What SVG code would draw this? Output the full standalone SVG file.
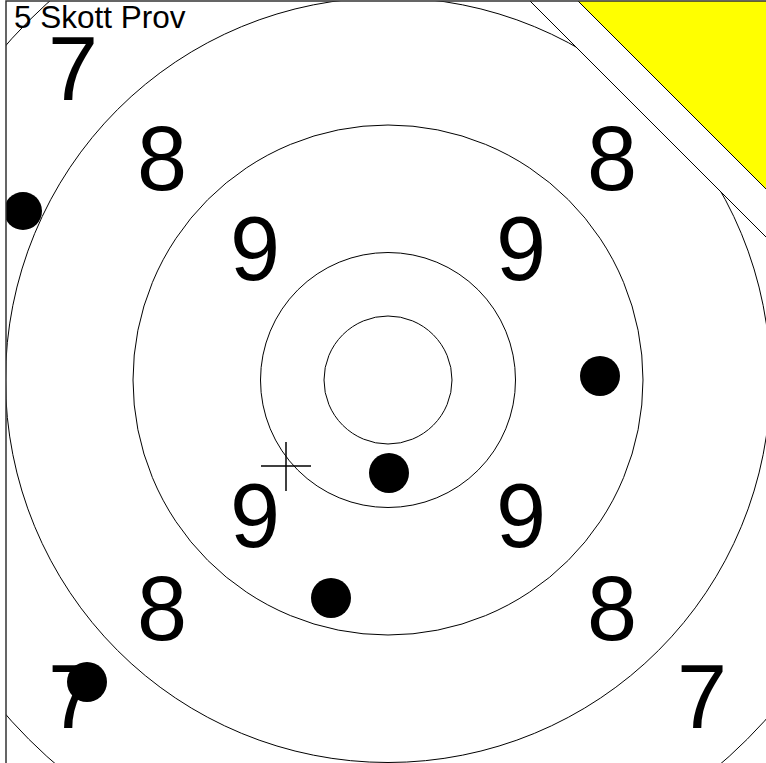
<svg xmlns="http://www.w3.org/2000/svg" width="766" height="763" viewBox="0 0 766 763">
<style>
.ring{fill:none;stroke:#000;stroke-width:1}
.num{font-family:"Liberation Sans",Arial,sans-serif;font-size:90px;fill:#000;text-anchor:middle}
.hit{fill:#000}
</style>
<defs>
<clipPath id="frame"><rect x="6" y="1" width="800" height="800"/></clipPath>
</defs>
<rect x="0" y="0" width="766" height="763" fill="#fff"/>
<g clip-path="url(#frame)">
<g id="target">
<circle class="ring" cx="388" cy="380" r="64"/>
<circle class="ring" cx="388" cy="380" r="127.5"/>
<circle class="ring" cx="388" cy="380" r="255"/>
<circle class="ring" cx="388" cy="380" r="382.5"/>
<circle class="ring" cx="388" cy="380" r="508"/>
</g>
<g id="corner">
<polygon points="519,-10 800,-10 800,271" fill="#fff" stroke="#000" stroke-width="1"/>
<polygon points="567,-10 800,-10 800,223" fill="#ffff00" stroke="#000" stroke-width="1"/>
</g>
<g id="labels">
<text class="num" x="73" y="100">7</text>
<text class="num" x="162" y="190">8</text>
<text class="num" x="612" y="190">8</text>
<text class="num" x="255" y="280">9</text>
<text class="num" x="521" y="280">9</text>
<text class="num" x="255" y="547">9</text>
<text class="num" x="521" y="547">9</text>
<text class="num" x="162" y="640">8</text>
<text class="num" x="612" y="640">8</text>
<text class="num" x="73" y="728">7</text>
<text class="num" x="702" y="728">7</text>
</g>
<text id="title" x="14" y="28" font-family="'Liberation Sans',Arial,sans-serif" font-size="31.5" fill="#000">5 Skott Prov</text>
<g id="cross" stroke="#000" stroke-width="1.5">
<line x1="261" y1="466" x2="311" y2="466"/>
<line x1="286" y1="442" x2="286" y2="491"/>
</g>
<g id="hits">
<circle class="hit" cx="23" cy="211" r="19"/>
<circle class="hit" cx="600" cy="376" r="20"/>
<circle class="hit" cx="389" cy="473" r="20"/>
<circle class="hit" cx="331" cy="598" r="20"/>
<circle class="hit" cx="87" cy="682" r="20"/>
</g>
</g>
<rect x="6" y="1" width="800" height="800" fill="none" stroke="#333" stroke-width="1.5"/>
</svg>
